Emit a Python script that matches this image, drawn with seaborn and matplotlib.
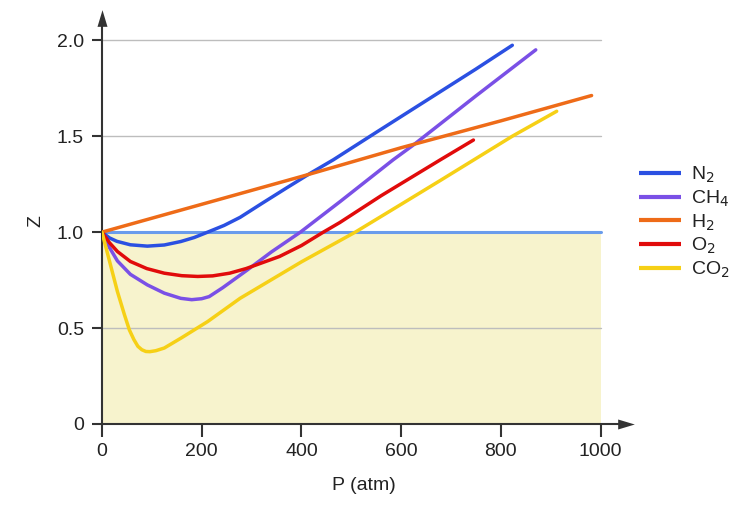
import numpy as np
import pandas as pd
import matplotlib
matplotlib.use('Agg')
import matplotlib.pyplot as plt
import seaborn as sns

# values (P in atm, Z)
gases = ['N2', 'CH4', 'H2', 'O2', 'CO2']
labels = [r'N$_2$', r'CH$_4$', r'H$_2$', r'O$_2$', r'CO$_2$']
colors = ['#2b50e2', '#7a50e6', '#ee6b18', '#e10b0b', '#f6d016']

n2_p = [0, 15, 30, 57, 91, 125, 158, 185, 212, 245, 277, 321, 370, 418, 464, 550, 650, 750, 823]
n2_z = [1.0, 0.97, 0.952, 0.934, 0.927, 0.933, 0.951, 0.972, 1.0, 1.035, 1.077, 1.15, 1.23,
        1.307, 1.377, 1.52, 1.685, 1.85, 1.974]

ch4_p = [0, 15, 31, 57, 91, 125, 158, 180, 200, 215, 242, 290, 340, 398, 478, 584, 625, 750, 870]
ch4_z = [1.0, 0.92, 0.85, 0.78, 0.725, 0.682, 0.655, 0.648, 0.653, 0.664, 0.71, 0.8,
         0.897, 1.0, 1.16, 1.377, 1.455, 1.71, 1.95]

h2_p = [0, 200, 400, 600, 800, 982]
h2_z = [1.0, 1.145, 1.29, 1.44, 1.58, 1.712]

o2_p = [0, 15, 31, 57, 90, 125, 160, 192, 222, 256, 289, 356, 400, 444, 477, 560, 678, 745]
o2_z = [1.0, 0.945, 0.899, 0.847, 0.81, 0.786, 0.773, 0.769, 0.772, 0.786, 0.81, 0.873,
        0.93, 1.0, 1.05, 1.19, 1.376, 1.48]

co2_p = [0, 15, 31, 45, 55, 64, 72, 80, 88, 96, 108, 125, 160, 212, 277, 400, 508, 600, 679,
         823, 912]
co2_z = [1.0, 0.85, 0.69, 0.57, 0.49, 0.44, 0.405, 0.387, 0.378, 0.377, 0.382, 0.396, 0.45,
         0.534, 0.655, 0.845, 1.0, 1.145, 1.27, 1.5, 1.63]

x_ticks = [0, 200, 400, 600, 800, 1000]
y_ticks = [0, 0.5, 1.0, 1.5, 2.0]
y_tick_labels = ['0', '0.5', '1.0', '1.5', '2.0']

series = {'N2': (n2_p, n2_z), 'CH4': (ch4_p, ch4_z), 'H2': (h2_p, h2_z),
          'O2': (o2_p, o2_z), 'CO2': (co2_p, co2_z)}
frames = []
for g in gases:
    p, z = series[g]
    frames.append(pd.DataFrame({'P': p, 'Z': z, 'gas': g}))
df = pd.concat(frames, ignore_index=True)

sns.set_style('white')
plt.rcParams['font.family'] = ['Liberation Sans', 'DejaVu Sans']

fig = plt.figure(figsize=(7.52, 5.09), dpi=100)
ax = fig.add_axes([0.1356, 0.167, 0.6975, 0.7967])

# shaded region below ideal gas line, grid lines
ax.fill_between([0, 1000], 0, 1.0, color='#f7f3cd', zorder=0, lw=0)
for yv in [0.5, 1.5, 2.0]:
    ax.plot([0, 1000], [yv, yv], color='#bdbdbd', lw=1, zorder=1)
ax.plot([0, 1000], [1.0, 1.0], color='#6a9cec', lw=2.2, zorder=2)

sns.lineplot(data=df, x='P', y='Z', hue='gas', hue_order=gases,
             palette=dict(zip(gases, colors)), sort=False, estimator=None,
             lw=2.5, ax=ax, zorder=3, solid_joinstyle='round', solid_capstyle='round')

ax.set_xlim(0, 1052)
ax.set_ylim(0, 2.1136)
ax.set_xticks(x_ticks)
ax.set_xticklabels([str(t) for t in x_ticks])
ax.set_yticks(y_ticks)
ax.set_yticklabels(y_tick_labels)
ax.tick_params(axis='both', direction='out', width=1.5, color='#333333',
               labelsize=14, labelcolor='#222222')
ax.tick_params(axis='x', length=9, pad=5, bottom=True)
ax.tick_params(axis='y', length=7, pad=6, left=True)
for s in ['top', 'right']:
    ax.spines[s].set_visible(False)
for s in ['left', 'bottom']:
    ax.spines[s].set_color('#333333')
    ax.spines[s].set_linewidth(1.5)

# axis arrows
arrow_r = [(-1, -0.6), (1, 0), (-1, 0.6), (-1, -0.6)]
arrow_u = [(-0.6, -1), (0, 1), (0.6, -1), (-0.6, -1)]
ax.plot(1, 0, marker=arrow_r, ms=12, color='#333333', mew=0,
        transform=ax.transAxes, clip_on=False)
ax.plot(0, 1, marker=arrow_u, ms=12, color='#333333', mew=0,
        transform=ax.transAxes, clip_on=False)

ax.set_xlabel('P (atm)', fontsize=14, color='#222222', labelpad=12)
ax.set_ylabel('Z', fontsize=14, color='#222222', labelpad=9)

handles, _ = ax.get_legend_handles_labels()
leg = ax.legend(handles, labels, loc='upper left', bbox_to_anchor=(0.826, 0.711),
                bbox_transform=fig.transFigure, frameon=False, fontsize=14,
                handlelength=2.2, handletextpad=0.5, labelspacing=0.18)
for line in leg.get_lines():
    line.set_linewidth(3)
    line.set_solid_capstyle('butt')
for t in leg.get_texts():
    t.set_color('#222222')

plt.savefig('out.png', dpi=100)
